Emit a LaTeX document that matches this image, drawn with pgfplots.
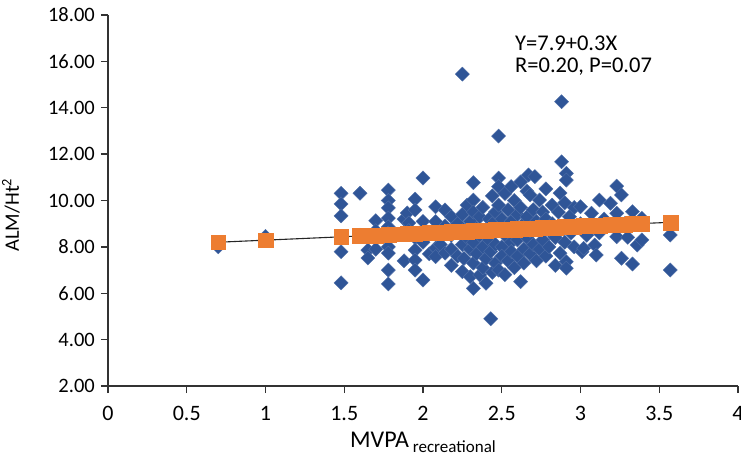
\documentclass[border=0pt]{standalone}
\usepackage{fontspec}
\setmainfont{Carlito}
\usepackage{pgfplots}
\pgfplotsset{compat=1.18}
\usepackage{pgfplotstable}
\definecolor{dblue}{HTML}{2F5597}
\definecolor{dorange}{HTML}{ED7D31}

% observed points (MVPA, ALM/Ht^2)
\pgfplotstableread{
x y
0.70 8.00
1.00 8.30
1.00 8.45
1.48 10.31
1.48 9.85
1.48 9.34
1.48 8.40
1.48 7.79
1.48 6.45
1.60 10.31
1.60 8.50
1.65 7.86
1.65 7.52
1.70 9.13
1.70 8.70
1.70 7.90
1.78 10.45
1.78 10.00
1.78 9.68
1.78 9.24
1.78 8.86
1.78 8.60
1.78 8.00
1.78 7.73
1.78 7.00
1.78 6.40
1.88 9.20
1.88 7.40
1.90 9.46
1.91 9.03
1.91 8.70
1.95 10.06
1.95 9.59
1.95 8.40
1.95 7.86
1.95 7.43
1.95 7.00
2.00 10.97
2.00 9.10
2.00 8.20
2.00 6.57
2.04 7.70
2.08 9.73
2.08 9.09
2.08 8.60
2.08 7.95
2.08 7.58
2.11 8.10
2.14 9.59
2.14 8.90
2.14 7.73
2.18 9.30
2.18 8.50
2.18 7.90
2.18 7.20
2.20 8.80
2.22 9.00
2.22 7.60
2.25 15.45
2.25 9.40
2.25 8.70
2.25 8.10
2.25 6.93
2.26 7.50
2.28 9.80
2.28 8.40
2.30 9.10
2.30 7.90
2.30 6.71
2.32 10.77
2.32 10.02
2.32 9.50
2.32 8.20
2.32 7.30
2.32 6.21
2.34 8.80
2.34 7.70
2.36 9.30
2.36 8.50
2.36 6.79
2.38 9.70
2.38 8.00
2.38 7.10
2.40 8.60
2.40 7.50
2.40 6.43
2.42 9.20
2.42 8.30
2.43 4.90
2.43 7.80
2.44 10.20
2.44 9.00
2.44 6.90
2.46 9.50
2.46 8.10
2.46 7.30
2.48 12.78
2.48 10.97
2.48 10.60
2.48 9.80
2.48 8.70
2.48 7.00
2.50 9.20
2.50 8.00
2.50 7.60
2.52 10.30
2.52 8.50
2.52 6.80
2.54 9.60
2.54 8.90
2.54 7.40
2.56 10.60
2.56 9.10
2.56 8.20
2.56 7.80
2.58 10.00
2.58 8.60
2.58 7.10
2.60 9.40
2.60 8.30
2.60 7.60
2.62 10.80
2.62 9.70
2.62 8.80
2.62 6.50
2.64 9.00
2.64 7.90
2.64 7.30
2.66 10.40
2.66 9.30
2.66 8.40
2.67 11.10
2.68 10.24
2.68 8.70
2.68 7.70
2.70 9.60
2.70 8.10
2.71 11.03
2.72 9.10
2.72 7.40
2.74 10.02
2.74 8.90
2.74 7.90
2.76 9.50
2.76 8.30
2.78 10.50
2.78 9.20
2.78 7.60
2.80 8.70
2.80 8.00
2.82 9.80
2.82 9.00
2.84 8.40
2.84 7.20
2.86 9.50
2.87 10.32
2.87 7.73
2.88 14.26
2.88 11.67
2.88 8.80
2.90 9.90
2.90 8.20
2.91 11.17
2.91 10.88
2.91 7.36
2.91 7.08
2.93 9.30
2.94 8.60
2.96 9.70
2.96 8.00
3.00 9.73
3.00 9.00
3.01 7.79
3.02 7.94
3.04 8.50
3.07 9.45
3.07 8.90
3.09 8.08
3.10 7.65
3.12 10.02
3.12 8.60
3.15 9.20
3.19 9.88
3.20 8.90
3.23 10.62
3.23 9.45
3.23 8.44
3.26 10.24
3.26 7.51
3.28 9.00
3.30 8.41
3.33 9.52
3.33 7.26
3.36 8.08
3.39 9.23
3.39 8.30
3.57 8.51
3.57 7.00
}\obsdata

% predicted values at each observed x
\pgfplotstableread{
x y
0.70 8.20
1.00 8.29
1.48 8.43
1.60 8.47
1.65 8.49
1.70 8.50
1.78 8.52
1.88 8.55
1.90 8.56
1.91 8.56
1.95 8.58
2.00 8.59
2.04 8.60
2.08 8.61
2.11 8.62
2.14 8.63
2.18 8.64
2.20 8.65
2.22 8.66
2.25 8.67
2.26 8.67
2.28 8.67
2.30 8.68
2.32 8.69
2.34 8.69
2.36 8.70
2.38 8.70
2.40 8.71
2.42 8.72
2.43 8.72
2.44 8.72
2.46 8.73
2.48 8.73
2.50 8.74
2.52 8.75
2.54 8.75
2.56 8.76
2.58 8.76
2.60 8.77
2.62 8.78
2.64 8.78
2.66 8.79
2.67 8.79
2.68 8.79
2.70 8.80
2.71 8.80
2.72 8.81
2.74 8.81
2.76 8.82
2.78 8.82
2.80 8.83
2.82 8.84
2.84 8.84
2.86 8.85
2.87 8.85
2.88 8.85
2.90 8.86
2.91 8.86
2.93 8.87
2.94 8.87
2.96 8.88
3.00 8.89
3.01 8.89
3.02 8.90
3.04 8.90
3.07 8.91
3.09 8.92
3.10 8.92
3.12 8.93
3.15 8.94
3.19 8.95
3.20 8.95
3.23 8.96
3.26 8.97
3.28 8.97
3.30 8.98
3.33 8.99
3.36 9.00
3.39 9.01
3.57 9.06
}\preddata

\begin{document}
\begin{tikzpicture}
\useasboundingbox (-108bp,-82bp) rectangle (633bp,386bp);
\begin{axis}[
  at={(0,0)}, anchor=south west,
  width=630bp, height=371bp, scale only axis,
  xmin=0, xmax=4, ymin=2, ymax=18,
  xtick={0,0.5,...,4}, ytick={2,4,...,18},
  axis x line*=bottom, axis y line*=left,
  axis line style={draw=black!80, line width=1.5bp},
  tick align=outside, major tick length=7bp,
  tick style={draw=black!80, line width=1.3bp},
  /pgf/number format/assume math mode=true,
  yticklabel style={/pgf/number format/.cd, fixed, fixed zerofill, precision=2, /tikz/.cd,
    font=\fontsize{20.5bp}{22bp}\selectfont, inner sep=0pt, anchor=east, xshift=-6bp},
  xticklabel style={font=\fontsize{22bp}{24bp}\selectfont, inner sep=0pt, anchor=north, yshift=-13bp},
  ylabel={ALM/Ht\textsuperscript{2}},
  ylabel style={at={([xshift=-88bp]axis description cs:0,0.461)}, anchor=south,
    inner sep=0pt, font=\fontsize{20.5bp}{22bp}\selectfont},
  xlabel={MVPA\,\raisebox{-5bp}{\fontsize{17bp}{18bp}\selectfont recreational}},
  xlabel style={at={([yshift=-61bp]axis description cs:0.5,0)}, anchor=base,
    inner sep=0pt, font=\fontsize{24bp}{26bp}\selectfont},
]
\addplot[only marks, mark=square*, mark size=5bp,
  mark options={rotate=45, fill=dblue, draw=dblue!85!white, line width=0.4bp}]
  table[x=x, y=y] {\obsdata};
\addplot[only marks, mark=square*, mark size=7.4bp,
  mark options={fill=dorange, draw=dorange, line width=0.3bp}]
  table[x=x, y=y] {\preddata};
\addplot[black!85, line width=1.1bp] coordinates {(0.70,8.20) (3.57,9.06)};
\node[anchor=base west, inner sep=0pt, font=\fontsize{22.5bp}{24bp}\selectfont]
  at (axis cs:2.584,16.49) {Y=7.9+0.3X};
\node[anchor=base west, inner sep=0pt, font=\fontsize{22.5bp}{24bp}\selectfont]
  at (axis cs:2.584,15.50) {R=0.20, P=0.07};
\end{axis}
\end{tikzpicture}
\end{document}
